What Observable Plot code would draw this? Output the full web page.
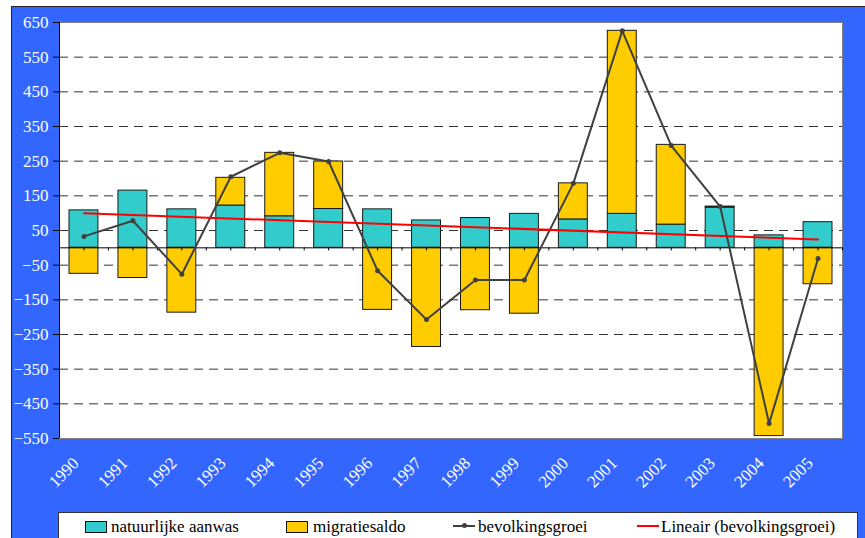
<!DOCTYPE html>
<html>
<head>
<meta charset="utf-8">
<script src="https://cdn.jsdelivr.net/npm/d3@7"></script>
<script src="https://cdn.jsdelivr.net/npm/@observablehq/plot@0.6"></script>
<style>
  html, body { margin: 0; padding: 0; background: #ffffff; }
  body { width: 865px; height: 538px; overflow: hidden; position: relative;
         font-family: "Liberation Serif", Tinos, "Times New Roman", "DejaVu Serif", "Noto Serif", serif; }
  #bg { position: absolute; left: 11px; top: 6px; right: 0; bottom: 0;
        background: #3366FF; border-left: 1px solid #222; border-top: 1px solid #222; }
  #chart { position: absolute; left: 0; top: 0; }
  #legend { position: absolute; left: 58px; top: 512px; width: 800px; height: 40px;
            background: #fff; border: 1px solid #333; box-sizing: border-box; }
  .sw { position: absolute; top: 8px; width: 20px; height: 10px; border: 1px solid #111; }
  .ln { position: absolute; top: 12px; width: 22px; height: 0; border-top: 2px solid #404040; }
  .dt { position: absolute; top: 10px; width: 5px; height: 5px; border-radius: 50%; background: #404040; }
  .tx { position: absolute; top: 5px; font-size: 17px; line-height: 17px; color: #000; white-space: nowrap; }
</style>
</head>
<body>
<div id="bg"></div>
<div id="chart"></div>
<div id="legend">
  <div class="sw" style="left:26px;background:#33CCCC"></div>
  <div class="tx" style="left:52px">natuurlijke aanwas</div>
  <div class="sw" style="left:227px;background:#FFCC00"></div>
  <div class="tx" style="left:254px">migratiesaldo</div>
  <div class="ln" style="left:394px"></div>
  <div class="dt" style="left:403px"></div>
  <div class="tx" style="left:419px">bevolkingsgroei</div>
  <div class="ln" style="left:578px;border-top-color:#FF0000"></div>
  <div class="tx" style="left:602px">Lineair (bevolkingsgroei)</div>
</div>
<script>
const years = [1990, 1991, 1992, 1993, 1994, 1995, 1996, 1997, 1998, 1999, 2000, 2001, 2002, 2003, 2004, 2005];
const natuurlijkeAanwas = [108, 165, 111, 122, 91, 112, 111, 79, 86, 98, 82, 98, 67, 116, 36, 74];
const migratiesaldo = [-75, -87, -187, 80, 183, 137, -179, -286, -180, -190, 104, 528, 230, 3, -543, -105];
const bevolkingsgroei = [33, 78, -76, 205, 274, 249, -66, -207, -93, -93, 186, 626, 295, 119, -507, -31];
const yTicks = [650, 550, 450, 350, 250, 150, 50, -50, -150, -250, -350, -450, -550];
const gridValues = [550, 450, 350, 250, 150, 50, -50, -150, -250, -350, -450];
const seriesNames = ["natuurlijke aanwas", "migratiesaldo"];
const seriesColors = ["#33CCCC", "#FFCC00"];

const bars = years.flatMap((year, i) => [
  {year, series: seriesNames[0], value: natuurlijkeAanwas[i]},
  {year, series: seriesNames[1], value: migratiesaldo[i]}
]);
const growth = years.map((year, i) => ({year, value: bevolkingsgroei[i]}));
const xMin = years[0] - 0.5, xMax = years[years.length - 1] + 0.5;
const halfTicks = d3.range(xMin, xMax + 0.01, 0.5);
const serifStack = "'Liberation Serif', Tinos, 'Times New Roman', 'DejaVu Serif', 'Noto Serif', serif";

const chart = Plot.plot({
  width: 865,
  height: 500,
  marginLeft: 59,
  marginRight: 23,
  marginTop: 22,
  marginBottom: 62,
  style: {background: "transparent", fontFamily: serifStack, fontSize: "17px", overflow: "visible"},
  x: {domain: [xMin, xMax], axis: null},
  y: {domain: [-550, 650], axis: null},
  color: {domain: seriesNames, range: seriesColors},
  marks: [
    Plot.frame({fill: "white", stroke: "#808080"}),
    Plot.ruleY(gridValues, {stroke: "#333", strokeDasharray: "9,6"}),
    Plot.rect(bars, Plot.stackY({
      x: "year",
      x1: d => d.year - 0.5,
      x2: d => d.year + 0.5,
      y: "value",
      z: "series",
      fill: "series",
      stroke: "#1a1a1a",
      strokeWidth: 1,
      insetLeft: 10,
      insetRight: 10
    })),
    Plot.ruleY([0], {stroke: "#000"}),
    Plot.ruleX(halfTicks, {y1: 0, y2: -9, stroke: "#000"}),
    Plot.ruleX([xMin], {stroke: "#000"}),
    Plot.axisY({ticks: yTicks, tickSize: 6, tickPadding: 5, fill: "white", stroke: "black", label: null, fontSize: 17, fontFamily: serifStack}),
    Plot.axisX({ticks: years, tickFormat: "d", tickRotate: -45, tickSize: 0, tickPadding: 22, dx: -8, fill: "white", label: null, fontSize: 17, fontFamily: serifStack}),
    Plot.line(growth, {x: "year", y: "value", stroke: "#404040", strokeWidth: 2}),
    Plot.dot(growth, {x: "year", y: "value", r: 2.5, fill: "#404040"}),
    Plot.linearRegressionY(growth, {x: "year", y: "value", stroke: "#FF0000", strokeWidth: 2, ci: 0})
  ]
});
document.getElementById("chart").appendChild(chart);
</script>
</body>
</html>
